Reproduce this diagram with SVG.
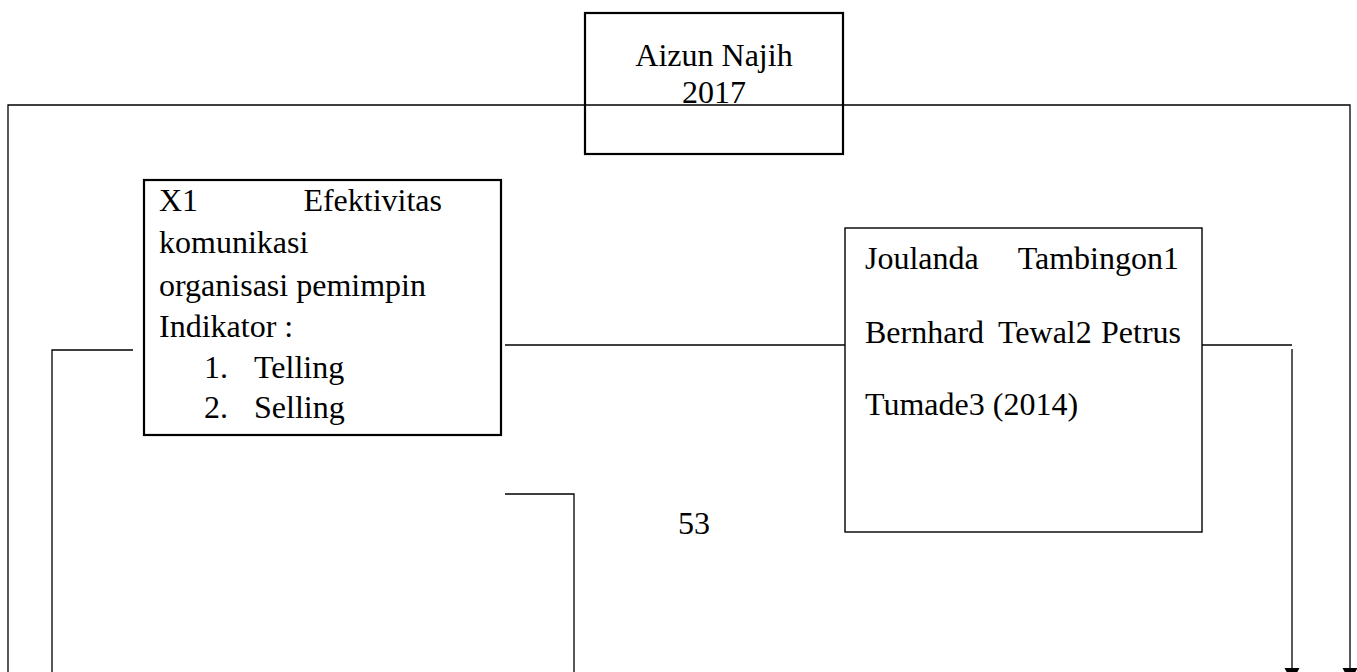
<svg xmlns="http://www.w3.org/2000/svg" width="1357" height="672" viewBox="0 0 1357 672">
<style>
text{font-family:"Liberation Serif","Times New Roman",serif;font-size:32px;fill:#000}
.box{fill:#fff;stroke:#000}
.thick{stroke-width:2.2}
.thin{stroke-width:1.4}
.conn{fill:none;stroke:#000;stroke-width:1.3}
</style>
<defs>
<marker id="arr" markerWidth="16" markerHeight="16" refX="0" refY="0" orient="auto" markerUnits="userSpaceOnUse" viewBox="0 -8 16 16">
<path d="M0,-7.5 L14,0 L0,7.5 Z" fill="#000"/>
</marker>
</defs>
<rect width="1357" height="672" fill="#fff"/>
<g id="connectors">
<path class="conn" d="M8,672 V105 H1350 V668" marker-end="url(#arr)"/>
<path class="conn" d="M52,672 V350 H133"/>
<path class="conn" d="M505,345 H845"/>
<path class="conn" d="M505,494 H574 V672"/>
<path class="conn" d="M1202,345 H1292"/>
<path class="conn" d="M1292,349 V668" marker-end="url(#arr)"/>
</g>
<g id="node-aizun">
<rect class="box thick" x="585" y="13" width="258" height="141" style="fill:none"/>
<text x="714" y="66" text-anchor="middle">Aizun Najih</text>
<text x="714" y="103" text-anchor="middle">2017</text>
</g>
<g id="node-x1">
<rect class="box thick" x="144" y="180" width="357" height="255"/>
<text x="159" y="211">X1</text>
<text x="442" y="211" text-anchor="end">Efektivitas</text>
<text x="159" y="253">komunikasi</text>
<text x="159" y="296">organisasi pemimpin</text>
<text x="159" y="337">Indikator :</text>
<text x="204" y="378">1.</text>
<text x="254" y="378">Telling</text>
<text x="204" y="418">2.</text>
<text x="254" y="418">Selling</text>
</g>
<g id="node-joulanda">
<rect class="box thin" x="845" y="228" width="357" height="304"/>
<text x="865" y="269">Joulanda</text>
<text x="1179" y="269" text-anchor="end">Tambingon1</text>
<text x="865" y="343">Bernhard</text>
<text x="998" y="343">Tewal2</text>
<text x="1181" y="343" text-anchor="end">Petrus</text>
<text x="865" y="415">Tumade3 (2014)</text>
</g>
<g id="page-number">
<text x="678" y="534">53</text>
</g>
</svg>
